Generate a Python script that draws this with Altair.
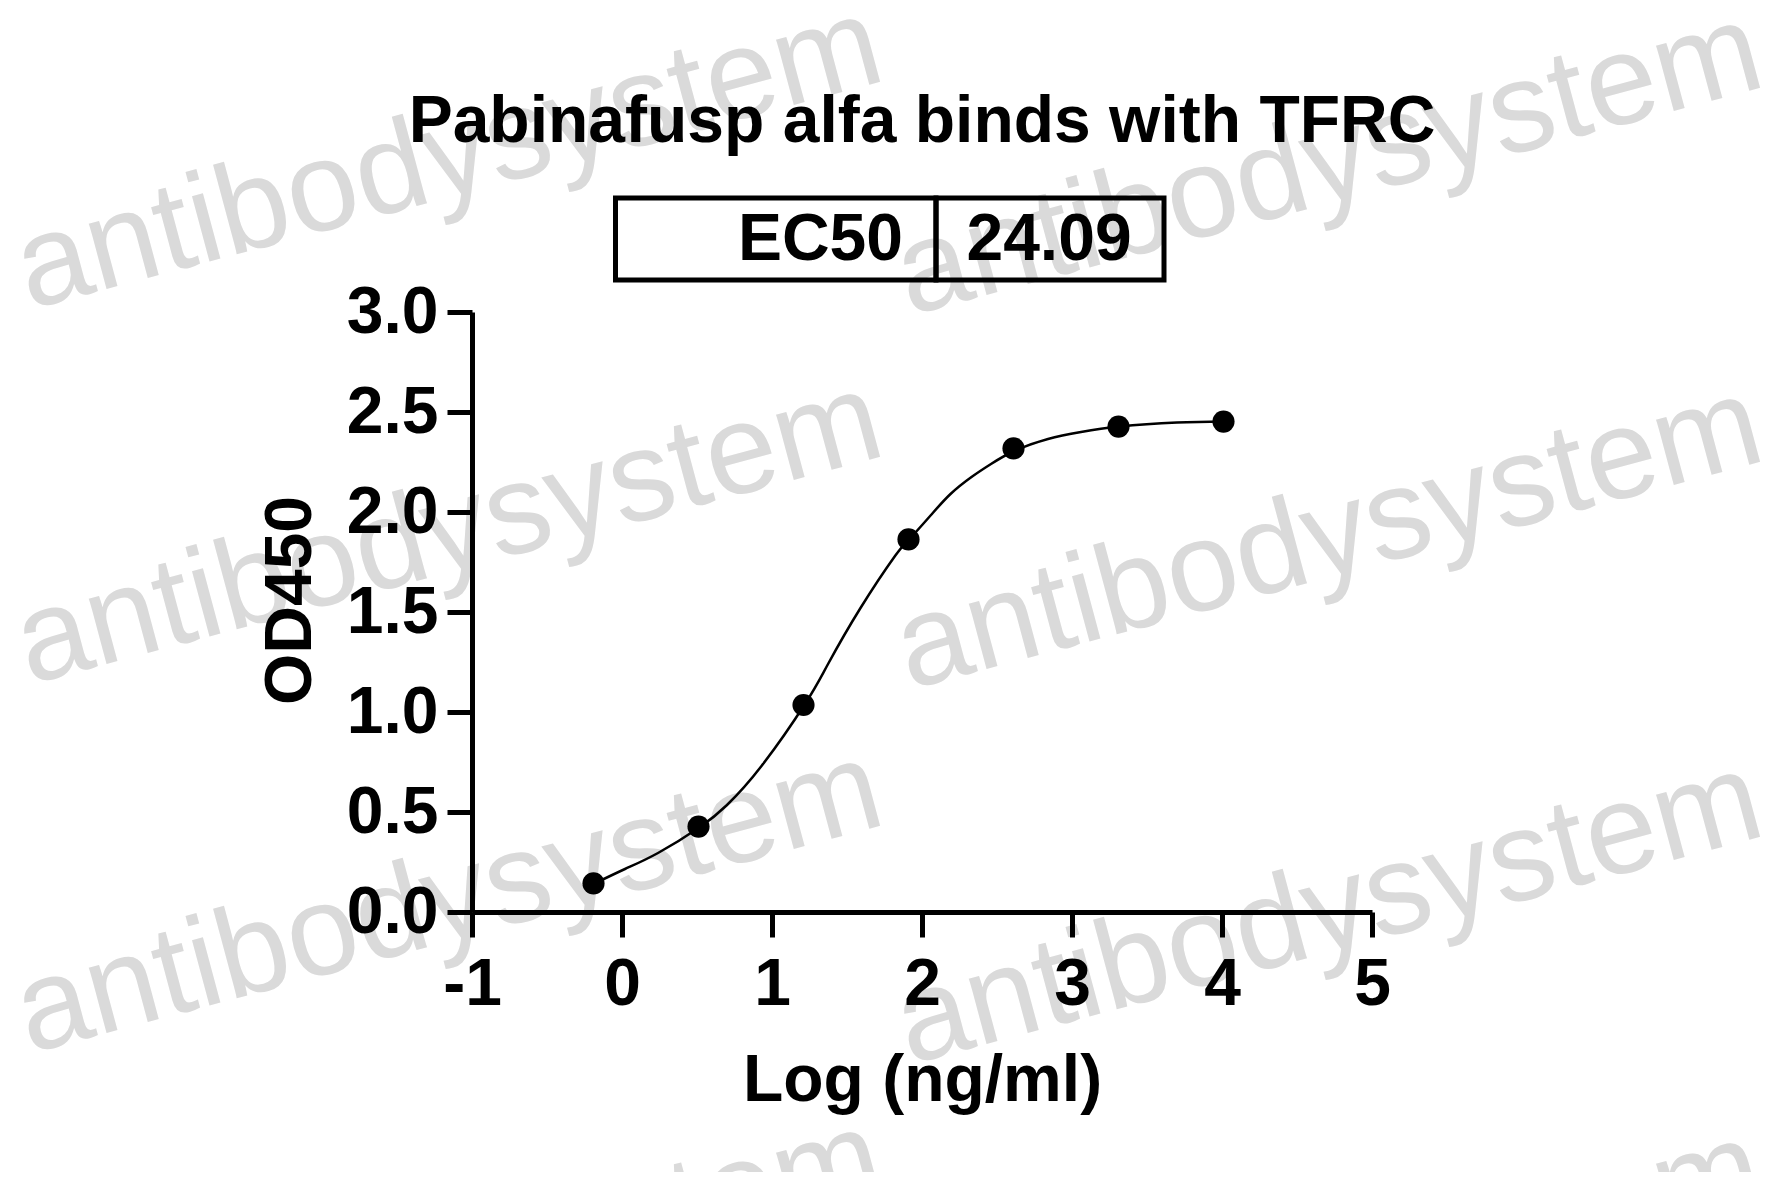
import altair as alt
import pandas as pd

# ---- data ----
log_conc = [-0.19, 0.51, 1.21, 1.91, 2.61, 3.31, 4.01]
od450 = [0.143, 0.427, 1.035, 1.863, 2.318, 2.427, 2.452]

curve_log = [-0.19, 0.02, 0.24, 0.52, 0.70, 0.93, 1.22, 1.37, 1.59, 1.82, 1.91,
             2.06, 2.19, 2.33, 2.46, 2.615, 2.84, 3.06, 3.315, 3.70, 4.01]
curve_od = [0.14, 0.215, 0.295, 0.425, 0.535, 0.73, 1.04, 1.235, 1.52, 1.78, 1.86,
            1.985, 2.09, 2.175, 2.24, 2.305, 2.365, 2.40, 2.427, 2.447, 2.452]

x_ticks = [-1, 0, 1, 2, 3, 4, 5]
y_ticks = [0.0, 0.5, 1.0, 1.5, 2.0, 2.5, 3.0]

title_text = "Pabinafusp alfa binds with TFRC"
ec50_label = "EC50"
ec50_value = "24.09"
watermark_text = "antibodysystem"

FONT = "Liberation Sans"
W, H = 900, 600

pts = pd.DataFrame({"log": log_conc, "od": od450})
crv = pd.DataFrame({"log": curve_log, "od": curve_od})
one = pd.DataFrame({"k": [0]})

xscale = alt.Scale(domain=[-1, 5], nice=False, zero=False)
yscale = alt.Scale(domain=[0, 3], nice=False, zero=False)

common_axis = dict(
    labelFont=FONT, labelFontSize=66, labelFontWeight="bold", labelColor="black",
    titleFont=FONT, titleFontSize=66, titleFontWeight="bold", titleColor="black",
    domainColor="black", domainWidth=5, tickColor="black", tickWidth=5,
    tickSize=25, grid=False, zindex=1, labelFlush=False,
)

xaxis = alt.Axis(values=x_ticks, labelExpr="toString(datum.value)",
                 title="Log (ng/ml)", labelPadding=15,
                 titleX=W / 2, titleY=188, titleBaseline="alphabetic",
                 titleAlign="center", **common_axis)
yaxis = alt.Axis(values=y_ticks, format=".1f", title="OD450", labelPadding=9,
                 titleAngle=270, titleX=-182, titleY=288, titleAlign="center",
                 titleBaseline="middle", **common_axis)

# watermark (decorative text), positions relative to plot origin
wm_layers = []
for (wx, wy) in [(-23, -154), (-23, 221), (-23, 590), (-23, 959),
                 (857, -148), (857, 226), (857, 601), (857, 970)]:
    wm_layers.append(
        alt.Chart(one).mark_text(
            font=FONT, fontSize=128, color="#dadada", angle=345,
            align="center", baseline="middle"
        ).encode(x=alt.value(wx), y=alt.value(wy), text=alt.value(watermark_text))
    )

line = alt.Chart(crv).mark_line(color="black", strokeWidth=2.5,
                                interpolate="natural").encode(
    x=alt.X("log:Q", scale=xscale, axis=xaxis),
    y=alt.Y("od:Q", scale=yscale, axis=yaxis),
)

points = alt.Chart(pts).mark_circle(color="black", opacity=1, size=490).encode(
    x=alt.X("log:Q", scale=xscale),
    y=alt.Y("od:Q", scale=yscale),
)

title = alt.Chart(one).mark_text(
    font=FONT, fontSize=66, fontWeight="bold", color="black",
    align="center", baseline="alphabetic"
).encode(x=alt.value(W / 2), y=alt.value(-170), text=alt.value(title_text))

box_left = alt.Chart(one).mark_rect(fill="white", fillOpacity=0, stroke="black",
                                    strokeWidth=5).encode(
    x=alt.value(143.5), x2=alt.value(464), y=alt.value(-114), y2=alt.value(-32))
box_right = alt.Chart(one).mark_rect(fill="white", fillOpacity=0, stroke="black",
                                     strokeWidth=5).encode(
    x=alt.value(464), x2=alt.value(692), y=alt.value(-114), y2=alt.value(-32))

ec_lab = alt.Chart(one).mark_text(
    font=FONT, fontSize=66, fontWeight="bold", color="black",
    align="right", baseline="alphabetic"
).encode(x=alt.value(431), y=alt.value(-52), text=alt.value(ec50_label))
ec_val = alt.Chart(one).mark_text(
    font=FONT, fontSize=66, fontWeight="bold", color="black",
    align="center", baseline="alphabetic"
).encode(x=alt.value(577), y=alt.value(-52), text=alt.value(ec50_value))

chart = alt.layer(
    *wm_layers, line, points, title, box_left, box_right, ec_lab, ec_val
).properties(
    width=W, height=H,
    autosize=alt.AutoSizeParams(type="none"),
    padding={"left": 464, "top": 304, "right": 400, "bottom": 260},
    background="white",
).configure_view(stroke=None)

chart.save("out.html", embed_options={"renderer": "svg", "actions": False})
